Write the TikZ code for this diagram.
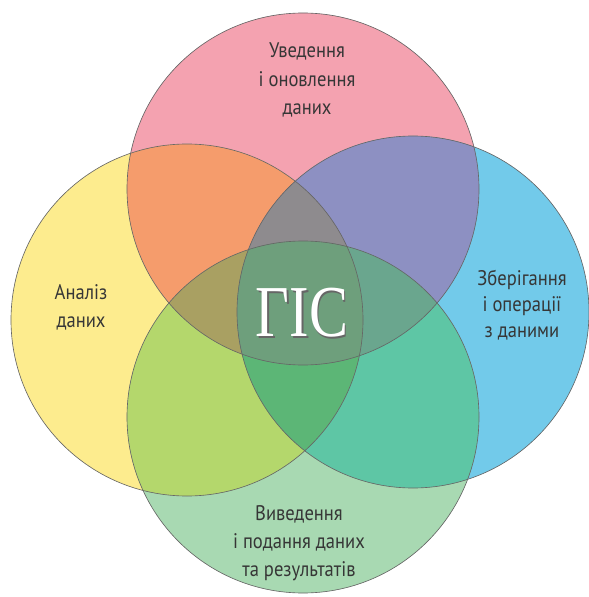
\documentclass[tikz,border=0pt]{standalone}
\usepackage{fontspec}
\setmainfont{PT Sans}[FakeStretch=0.88]
\newfontfamily\gisfont{Liberation Serif}[FakeStretch=0.8]
\usepackage{tikz}
\definecolor{vpink}{HTML}{F4A2B0}
\definecolor{vyellow}{HTML}{FDEC8E}
\definecolor{vblue}{HTML}{72CAEA}
\definecolor{vgreen}{HTML}{A8D9B2}
\definecolor{cPY}{HTML}{F59C6C}
\definecolor{cPB}{HTML}{8D90C2}
\definecolor{cYG}{HTML}{B4D76C}
\definecolor{cBG}{HTML}{5EC6A5}
\definecolor{cPYG}{HTML}{A9A062}
\definecolor{cPBG}{HTML}{6AA68E}
\definecolor{cPYB}{HTML}{8E8B8E}
\definecolor{cYBG}{HTML}{5CB676}
\definecolor{cPYBG}{HTML}{6E9F7C}
\definecolor{vtext}{HTML}{363636}
\tikzset{
  ring/.style={circle, minimum size=8.8cm, inner sep=0pt},
  rim/.style={draw=black!60, line width=0.45pt},
  lbl/.style={align=center, text=vtext, font=\fontsize{15}{20}\selectfont},
}
\def\rr{176}
\begin{document}
\begin{tikzpicture}[x=0.025cm,y=-0.025cm]
\useasboundingbox (0,0) rectangle (589,597);
\foreach \nm/\cx/\cy/\col in {vved/303/189/vpink, anal/187/320/vyellow, zber/413/312/vblue, vyved/303/417/vgreen}{
  \node[ring, fill=\col] (\nm) at (\cx,\cy) {};
}
\foreach \a/\b/\col in {vved/anal/cPY, vved/zber/cPB, anal/vyved/cYG, zber/vyved/cBG}{
  \begin{scope}
    \clip (\a.center) circle[radius=\rr];
    \fill[\col] (\b.center) circle[radius=\rr];
  \end{scope}
}
\foreach \a/\b/\c/\col in {vved/anal/vyved/cPYG, vved/zber/vyved/cPBG, vved/anal/zber/cPYB, anal/zber/vyved/cYBG}{
  \begin{scope}
    \clip (\a.center) circle[radius=\rr];
    \clip (\b.center) circle[radius=\rr];
    \fill[\col] (\c.center) circle[radius=\rr];
  \end{scope}
}
\begin{scope}
  \clip (vved.center) circle[radius=\rr];
  \clip (anal.center) circle[radius=\rr];
  \clip (zber.center) circle[radius=\rr];
  \fill[cPYBG] (vyved.center) circle[radius=\rr];
\end{scope}
\foreach \nm in {vved, anal, zber, vyved}{
  \draw[rim] (\nm.center) circle[radius=\rr];
}
\node[lbl] (tvved) at (307,80) {Уведення\\і оновлення\\даних};
\node[lbl] (tanal) at (81,307) {Аналіз\\даних};
\node[lbl, font=\fontsize{15}{18.5}\selectfont] (tzber) at (522,305) {Зберігання\\і операції\\з даними};
\node[lbl] (tvyved) at (299,543) {Виведення\\і подання даних\\та результатів};
\node[font=\gisfont\fontsize{52}{52}\selectfont, text=black!60] (gisshadow) at (303.5,315) {ГІС};
\node[font=\gisfont\fontsize{52}{52}\selectfont, text=white] (gis) at (302,313) {ГІС};
\end{tikzpicture}
\end{document}
